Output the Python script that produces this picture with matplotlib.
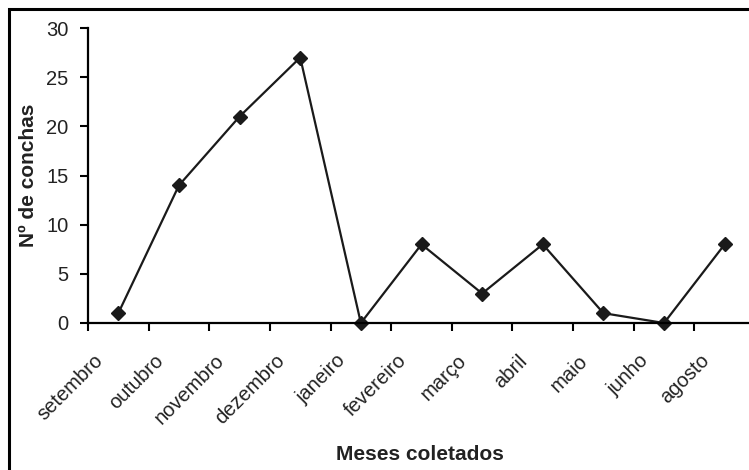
import numpy as np
import matplotlib
matplotlib.use('Agg')
from matplotlib import pyplot as plt
from matplotlib.patches import Rectangle
import matplotlib.transforms as mtransforms

meses = ['setembro', 'outubro', 'novembro', 'dezembro', 'janeiro', 'fevereiro',
         'março', 'abril', 'maio', 'junho', 'agosto']
conchas = [1, 14, 21, 27, 0, 8, 3, 8, 1, 0, 8]

plt.rcParams['font.family'] = ['Liberation Sans', 'DejaVu Sans']

fig = plt.figure(figsize=(7.49, 4.70), dpi=100)

# moldura do grafico (lados direito e inferior cortados como na figura)
fig.patches.append(Rectangle((9 / 749, -0.05), 1.1, 1 - 9 / 470 + 0.05,
                             transform=fig.transFigure, fill=False,
                             edgecolor='black', linewidth=2.2))

ax = fig.add_axes([88 / 749, 1 - 323 / 470, (755 - 88) / 749, (323 - 28) / 470])

x = np.arange(len(meses)) + 0.5
ax.plot(x, conchas, color='#1a1a1a', linewidth=1.6, marker='D', markersize=7.5,
        clip_on=False)

ax.set_xlim(0, len(meses))
ax.set_ylim(0, 30)
ax.set_yticks(range(0, 31, 5))
ax.set_xticks(np.arange(len(meses) + 1))
ax.set_xticklabels([])
ax.set_xticks(x, minor=True)
ax.set_xticklabels(meses, minor=True, rotation=45, ha='right',
                   rotation_mode='anchor', fontsize=14.5, color='#222222')
ax.tick_params(axis='x', which='minor', length=0, pad=0)
ax.tick_params(axis='x', which='major', length=6, width=1.5, direction='out')
ax.tick_params(axis='y', length=6, width=1.5, direction='out', labelsize=14.5,
               labelcolor='#222222', pad=8)

# deslocar os rotulos do eixo x para baixo e para a esquerda
offset = mtransforms.ScaledTranslation(-25 / 100, -28 / 100, fig.dpi_scale_trans)
for lab in ax.xaxis.get_minorticklabels():
    lab.set_transform(lab.get_transform() + offset)

for s in ['top', 'right']:
    ax.spines[s].set_visible(False)
for s in ['left', 'bottom']:
    ax.spines[s].set_linewidth(1.6)

ax.set_ylabel('Nº de conchas', fontsize=15, fontweight='bold', labelpad=6,
              color='#222222')
fig.text(420 / 749, 1 - 455 / 470, 'Meses coletados', fontsize=15,
         fontweight='bold', ha='center', va='center', color='#222222')

fig.savefig('out.png', dpi=100)
